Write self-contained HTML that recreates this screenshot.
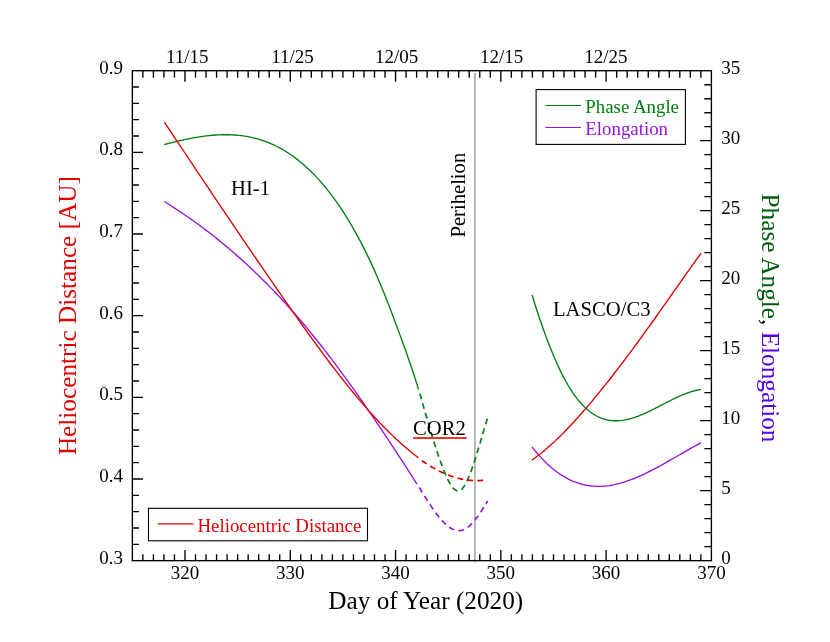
<!DOCTYPE html>
<html><head><meta charset="utf-8"><title>Chart</title><style>html,body{margin:0;padding:0;background:#fff}body{width:830px;height:642px;overflow:hidden}</style></head><body>
<svg width="830" height="642" viewBox="0 0 830 642" style="will-change:transform;display:block;font-family:'Liberation Serif',serif">
<rect width="830" height="642" fill="#fff"/>
<line x1="474.90" y1="73.1" x2="474.90" y2="562.4" stroke="#b0b0b0" stroke-width="1.8"/>
<path d="M164.20,144.58 L167.42,143.75 L170.64,142.93 L173.86,142.14 L177.08,141.36 L180.30,140.62 L183.52,139.90 L186.74,139.21 L189.96,138.56 L193.18,137.94 L196.40,137.37 L199.62,136.85 L202.84,136.37 L206.06,135.95 L209.28,135.58 L212.50,135.27 L215.72,135.02 L218.94,134.84 L222.16,134.72 L225.38,134.68 L228.61,134.72 L231.83,134.83 L235.05,135.02 L238.27,135.30 L241.49,135.67 L244.71,136.13 L247.93,136.68 L251.15,137.33 L254.37,138.09 L257.59,138.95 L260.81,139.91 L264.03,140.99 L267.25,142.19 L270.47,143.50 L273.69,144.93 L276.91,146.49 L280.13,148.18 L283.35,150.00 L286.57,151.95 L289.79,154.04 L293.01,156.27 L296.23,158.65 L299.45,161.18 L302.67,163.85 L305.89,166.69 L309.11,169.67 L312.33,172.82 L315.55,176.14 L318.77,179.62 L321.99,183.28 L325.21,187.11 L328.43,191.11 L331.65,195.30 L334.87,199.67 L338.09,204.23 L341.31,208.98 L344.53,213.93 L347.75,219.09 L350.97,224.46 L354.19,230.04 L357.42,235.84 L360.64,241.87 L363.86,248.14 L367.08,254.64 L370.30,261.39 L373.52,268.40 L376.74,275.66 L379.96,283.18 L383.18,290.97 L386.40,299.04 L389.62,307.33 L392.84,315.81 L396.06,324.43 L399.28,333.14 L402.50,341.92 L405.72,350.84 L408.94,359.98 L412.16,369.42 L415.38,379.26 L418.60,389.57" fill="none" stroke="#007f10" stroke-width="1.35" stroke-linejoin="round"/>
<path d="M418.60,389.61 L419.47,392.59 L420.34,395.59 L421.22,398.59 L422.09,401.61 L422.96,404.63 L423.83,407.65 L424.71,410.67 L425.58,413.69 L426.45,416.70 L427.32,419.70 L428.19,422.69 L429.07,425.65 L429.94,428.60 L430.81,431.53 L431.68,434.43 L432.55,437.30 L433.43,440.14 L434.30,442.94 L435.17,445.71 L436.04,448.43 L436.92,451.11 L437.79,453.74 L438.66,456.32 L439.53,458.84 L440.40,461.31 L441.28,463.72 L442.15,466.06 L443.02,468.34 L443.89,470.55 L444.76,472.68 L445.64,474.73 L446.51,476.69 L447.38,478.55 L448.25,480.32 L449.13,481.97 L450.00,483.50 L450.87,484.91 L451.74,486.19 L452.61,487.33 L453.49,488.33 L454.36,489.17 L455.23,489.85 L456.10,490.37 L456.97,490.72 L457.85,490.89 L458.72,490.87 L459.59,490.65 L460.46,490.24 L461.34,489.62 L462.21,488.80 L463.08,487.80 L463.95,486.61 L464.82,485.25 L465.70,483.73 L466.57,482.06 L467.44,480.24 L468.31,478.28 L469.18,476.20 L470.06,473.99 L470.93,471.68 L471.80,469.26 L472.67,466.75 L473.55,464.16 L474.42,461.49 L475.29,458.76 L476.16,455.96 L477.03,453.12 L477.91,450.23 L478.78,447.32 L479.65,444.38 L480.52,441.42 L481.39,438.46 L482.27,435.50 L483.14,432.56 L484.01,429.63 L484.88,426.74 L485.76,423.88 L486.63,421.07 L487.50,418.31" fill="none" stroke="#007f10" stroke-width="1.7" stroke-dasharray="5.8,4.2" stroke-dashoffset="5.8" stroke-linejoin="round"/>
<path d="M532.00,294.87 L534.14,301.74 L536.28,308.44 L538.41,314.95 L540.55,321.28 L542.69,327.43 L544.83,333.39 L546.97,339.16 L549.10,344.73 L551.24,350.11 L553.38,355.29 L555.52,360.26 L557.66,365.03 L559.79,369.60 L561.93,373.95 L564.07,378.09 L566.21,382.02 L568.35,385.73 L570.48,389.21 L572.62,392.49 L574.76,395.55 L576.90,398.40 L579.04,401.06 L581.17,403.52 L583.31,405.79 L585.45,407.87 L587.59,409.78 L589.73,411.52 L591.86,413.08 L594.00,414.49 L596.14,415.74 L598.28,416.83 L600.42,417.78 L602.55,418.59 L604.69,419.26 L606.83,419.81 L608.97,420.23 L611.11,420.53 L613.24,420.71 L615.38,420.79 L617.52,420.76 L619.66,420.64 L621.79,420.42 L623.93,420.10 L626.07,419.71 L628.21,419.23 L630.35,418.68 L632.48,418.06 L634.62,417.37 L636.76,416.62 L638.90,415.82 L641.04,414.96 L643.17,414.06 L645.31,413.11 L647.45,412.13 L649.59,411.12 L651.73,410.07 L653.86,409.01 L656.00,407.93 L658.14,406.83 L660.28,405.72 L662.42,404.61 L664.55,403.51 L666.69,402.40 L668.83,401.31 L670.97,400.23 L673.11,399.18 L675.24,398.15 L677.38,397.14 L679.52,396.18 L681.66,395.25 L683.80,394.36 L685.93,393.53 L688.07,392.74 L690.21,392.02 L692.35,391.36 L694.49,390.77 L696.62,390.24 L698.76,389.80 L700.90,389.44" fill="none" stroke="#007f10" stroke-width="1.35" stroke-linejoin="round"/>
<path d="M164.30,201.52 L167.50,203.52 L170.70,205.55 L173.90,207.61 L177.09,209.70 L180.29,211.83 L183.49,213.99 L186.69,216.19 L189.89,218.42 L193.09,220.69 L196.29,222.99 L199.49,225.33 L202.68,227.71 L205.88,230.12 L209.08,232.57 L212.28,235.05 L215.48,237.58 L218.68,240.15 L221.88,242.75 L225.08,245.39 L228.27,248.08 L231.47,250.80 L234.67,253.57 L237.87,256.38 L241.07,259.23 L244.27,262.12 L247.47,265.06 L250.67,268.04 L253.86,271.06 L257.06,274.13 L260.26,277.24 L263.46,280.40 L266.66,283.60 L269.86,286.85 L273.06,290.15 L276.26,293.49 L279.45,296.88 L282.65,300.32 L285.85,303.81 L289.05,307.34 L292.25,310.93 L295.45,314.57 L298.65,318.25 L301.85,321.99 L305.04,325.78 L308.24,329.62 L311.44,333.51 L314.64,337.45 L317.84,341.45 L321.04,345.49 L324.24,349.58 L327.44,353.72 L330.63,357.90 L333.83,362.13 L337.03,366.40 L340.23,370.72 L343.43,375.07 L346.63,379.47 L349.83,383.90 L353.03,388.37 L356.22,392.88 L359.42,397.43 L362.62,402.01 L365.82,406.62 L369.02,411.26 L372.22,415.94 L375.42,420.65 L378.62,425.38 L381.81,430.14 L385.01,434.93 L388.21,439.75 L391.41,444.59 L394.61,449.45 L397.81,454.33 L401.01,459.24 L404.21,464.16 L407.40,469.11 L410.60,474.07 L413.80,479.05 L417.00,484.04" fill="none" stroke="#9614dc" stroke-width="1.35" stroke-linejoin="round"/>
<path d="M417.10,483.88 L417.99,485.34 L418.88,486.81 L419.78,488.27 L420.67,489.74 L421.56,491.20 L422.45,492.65 L423.35,494.10 L424.24,495.55 L425.13,496.98 L426.02,498.41 L426.92,499.82 L427.81,501.22 L428.70,502.60 L429.59,503.97 L430.49,505.32 L431.38,506.65 L432.27,507.97 L433.16,509.26 L434.06,510.52 L434.95,511.77 L435.84,512.98 L436.73,514.17 L437.63,515.33 L438.52,516.46 L439.41,517.55 L440.30,518.62 L441.19,519.65 L442.09,520.64 L442.98,521.59 L443.87,522.51 L444.76,523.38 L445.66,524.21 L446.55,525.00 L447.44,525.74 L448.33,526.44 L449.23,527.09 L450.12,527.69 L451.01,528.24 L451.90,528.73 L452.80,529.17 L453.69,529.56 L454.58,529.89 L455.47,530.16 L456.37,530.38 L457.26,530.53 L458.15,530.62 L459.04,530.64 L459.94,530.60 L460.83,530.49 L461.72,530.32 L462.61,530.07 L463.51,529.75 L464.40,529.36 L465.29,528.91 L466.18,528.38 L467.07,527.79 L467.97,527.13 L468.86,526.41 L469.75,525.64 L470.64,524.80 L471.54,523.91 L472.43,522.97 L473.32,521.98 L474.21,520.93 L475.11,519.85 L476.00,518.71 L476.89,517.54 L477.78,516.33 L478.68,515.08 L479.57,513.79 L480.46,512.47 L481.35,511.12 L482.25,509.73 L483.14,508.33 L484.03,506.89 L484.92,505.44 L485.82,503.96 L486.71,502.47 L487.60,500.96" fill="none" stroke="#9614dc" stroke-width="1.7" stroke-dasharray="5.8,4.2" stroke-dashoffset="5.8" stroke-linejoin="round"/>
<path d="M532.00,446.94 L534.14,449.65 L536.28,452.25 L538.42,454.74 L540.56,457.12 L542.70,459.40 L544.84,461.57 L546.97,463.64 L549.11,465.61 L551.25,467.48 L553.39,469.26 L555.53,470.93 L557.67,472.51 L559.81,473.99 L561.95,475.39 L564.09,476.69 L566.23,477.90 L568.37,479.03 L570.51,480.06 L572.65,481.02 L574.78,481.89 L576.92,482.67 L579.06,483.38 L581.20,484.00 L583.34,484.55 L585.48,485.02 L587.62,485.42 L589.76,485.74 L591.90,486.00 L594.04,486.18 L596.18,486.29 L598.32,486.33 L600.46,486.31 L602.59,486.22 L604.73,486.07 L606.87,485.86 L609.01,485.59 L611.15,485.26 L613.29,484.87 L615.43,484.43 L617.57,483.93 L619.71,483.39 L621.85,482.79 L623.99,482.15 L626.13,481.46 L628.27,480.73 L630.41,479.96 L632.54,479.14 L634.68,478.29 L636.82,477.40 L638.96,476.48 L641.10,475.52 L643.24,474.54 L645.38,473.52 L647.52,472.48 L649.66,471.41 L651.80,470.31 L653.94,469.20 L656.08,468.06 L658.22,466.91 L660.35,465.74 L662.49,464.56 L664.63,463.36 L666.77,462.15 L668.91,460.93 L671.05,459.71 L673.19,458.48 L675.33,457.24 L677.47,456.01 L679.61,454.77 L681.75,453.54 L683.89,452.31 L686.03,451.08 L688.16,449.86 L690.30,448.65 L692.44,447.45 L694.58,446.27 L696.72,445.09 L698.86,443.94 L701.00,442.80" fill="none" stroke="#9614dc" stroke-width="1.35" stroke-linejoin="round"/>
<path d="M164.30,122.01 L167.52,126.85 L170.73,131.68 L173.95,136.52 L177.16,141.35 L180.38,146.18 L183.59,151.00 L186.81,155.83 L190.02,160.65 L193.24,165.46 L196.45,170.28 L199.67,175.09 L202.88,179.89 L206.10,184.70 L209.31,189.49 L212.53,194.29 L215.74,199.07 L218.96,203.86 L222.17,208.63 L225.39,213.41 L228.60,218.17 L231.82,222.93 L235.03,227.68 L238.25,232.43 L241.46,237.17 L244.68,241.90 L247.89,246.63 L251.11,251.34 L254.33,256.05 L257.54,260.75 L260.76,265.45 L263.97,270.13 L267.19,274.81 L270.40,279.47 L273.62,284.13 L276.83,288.78 L280.05,293.42 L283.26,298.04 L286.48,302.66 L289.69,307.26 L292.91,311.85 L296.12,316.42 L299.34,320.97 L302.55,325.50 L305.77,330.01 L308.98,334.49 L312.20,338.95 L315.41,343.37 L318.63,347.77 L321.84,352.13 L325.06,356.45 L328.27,360.74 L331.49,364.99 L334.71,369.20 L337.92,373.37 L341.14,377.49 L344.35,381.56 L347.57,385.58 L350.78,389.55 L354.00,393.47 L357.21,397.34 L360.43,401.14 L363.64,404.89 L366.86,408.58 L370.07,412.20 L373.29,415.76 L376.50,419.25 L379.72,422.68 L382.93,426.03 L386.15,429.31 L389.36,432.51 L392.58,435.64 L395.79,438.68 L399.01,441.65 L402.22,444.54 L405.44,447.33 L408.65,450.05 L411.87,452.67 L415.08,455.20 L418.30,457.64" fill="none" stroke="#e00000" stroke-width="1.35" stroke-linejoin="round"/>
<path d="M418.40,458.20 L419.23,458.80 L420.07,459.39 L420.90,459.98 L421.73,460.55 L422.56,461.13 L423.40,461.69 L424.23,462.25 L425.06,462.80 L425.90,463.34 L426.73,463.87 L427.56,464.40 L428.39,464.92 L429.23,465.43 L430.06,465.94 L430.89,466.44 L431.73,466.93 L432.56,467.41 L433.39,467.88 L434.23,468.35 L435.06,468.81 L435.89,469.26 L436.72,469.70 L437.56,470.14 L438.39,470.57 L439.22,470.99 L440.06,471.40 L440.89,471.80 L441.72,472.19 L442.55,472.58 L443.39,472.96 L444.22,473.33 L445.05,473.69 L445.89,474.04 L446.72,474.39 L447.55,474.72 L448.38,475.05 L449.22,475.37 L450.05,475.67 L450.88,475.97 L451.72,476.27 L452.55,476.55 L453.38,476.82 L454.22,477.09 L455.05,477.34 L455.88,477.59 L456.71,477.82 L457.55,478.05 L458.38,478.27 L459.21,478.48 L460.05,478.68 L460.88,478.87 L461.71,479.05 L462.54,479.22 L463.38,479.38 L464.21,479.53 L465.04,479.67 L465.88,479.80 L466.71,479.93 L467.54,480.04 L468.37,480.14 L469.21,480.23 L470.04,480.31 L470.87,480.38 L471.71,480.44 L472.54,480.50 L473.37,480.54 L474.21,480.57 L475.04,480.59 L475.87,480.60 L476.70,480.60 L477.54,480.58 L478.37,480.56 L479.20,480.53 L480.04,480.48 L480.87,480.43 L481.70,480.36 L482.53,480.29 L483.37,480.20 L484.20,480.10" fill="none" stroke="#e00000" stroke-width="1.7" stroke-dasharray="5.8,4.2" stroke-dashoffset="5.8" stroke-linejoin="round"/>
<path d="M532.00,460.01 L534.14,458.51 L536.28,456.94 L538.42,455.33 L540.56,453.66 L542.70,451.94 L544.84,450.17 L546.97,448.35 L549.11,446.49 L551.25,444.58 L553.39,442.63 L555.53,440.63 L557.67,438.59 L559.81,436.51 L561.95,434.39 L564.09,432.23 L566.23,430.04 L568.37,427.81 L570.51,425.54 L572.65,423.25 L574.78,420.92 L576.92,418.56 L579.06,416.17 L581.20,413.76 L583.34,411.32 L585.48,408.85 L587.62,406.36 L589.76,403.85 L591.90,401.31 L594.04,398.75 L596.18,396.17 L598.32,393.56 L600.46,390.94 L602.59,388.29 L604.73,385.62 L606.87,382.93 L609.01,380.22 L611.15,377.50 L613.29,374.75 L615.43,371.99 L617.57,369.21 L619.71,366.41 L621.85,363.60 L623.99,360.77 L626.13,357.92 L628.27,355.06 L630.41,352.19 L632.54,349.30 L634.68,346.40 L636.82,343.48 L638.96,340.55 L641.10,337.61 L643.24,334.66 L645.38,331.70 L647.52,328.73 L649.66,325.75 L651.80,322.76 L653.94,319.75 L656.08,316.74 L658.22,313.73 L660.35,310.70 L662.49,307.67 L664.63,304.64 L666.77,301.60 L668.91,298.55 L671.05,295.51 L673.19,292.46 L675.33,289.41 L677.47,286.37 L679.61,283.33 L681.75,280.29 L683.89,277.26 L686.03,274.23 L688.16,271.21 L690.30,268.19 L692.44,265.19 L694.58,262.20 L696.72,259.21 L698.86,256.24 L701.00,253.29" fill="none" stroke="#e00000" stroke-width="1.35" stroke-linejoin="round"/>
<line x1="413.1" y1="438.0" x2="466.7" y2="438.0" stroke="#ec3524" stroke-width="2"/>
<rect x="132.35" y="70.7" width="579.05" height="489.95" fill="none" stroke="#000" stroke-width="1.35"/>
<path d="M142.88,560.65v-6.3M142.88,70.7v7.0M153.41,560.65v-6.3M153.41,70.7v7.0M163.93,560.65v-6.3M163.93,70.7v7.0M174.46,560.65v-6.3M174.46,70.7v7.0M184.99,560.65v-10.65M184.99,70.7v11.0M195.52,560.65v-6.3M195.52,70.7v7.0M206.05,560.65v-6.3M206.05,70.7v7.0M216.58,560.65v-6.3M216.58,70.7v7.0M227.10,560.65v-6.3M227.10,70.7v7.0M237.63,560.65v-6.3M237.63,70.7v7.0M248.16,560.65v-6.3M248.16,70.7v7.0M258.69,560.65v-6.3M258.69,70.7v7.0M269.22,560.65v-6.3M269.22,70.7v7.0M279.74,560.65v-6.3M279.74,70.7v7.0M290.27,560.65v-10.65M290.27,70.7v11.0M300.80,560.65v-6.3M300.80,70.7v7.0M311.33,560.65v-6.3M311.33,70.7v7.0M321.86,560.65v-6.3M321.86,70.7v7.0M332.39,560.65v-6.3M332.39,70.7v7.0M342.91,560.65v-6.3M342.91,70.7v7.0M353.44,560.65v-6.3M353.44,70.7v7.0M363.97,560.65v-6.3M363.97,70.7v7.0M374.50,560.65v-6.3M374.50,70.7v7.0M385.03,560.65v-6.3M385.03,70.7v7.0M395.55,560.65v-10.65M395.55,70.7v11.0M406.08,560.65v-6.3M406.08,70.7v7.0M416.61,560.65v-6.3M416.61,70.7v7.0M427.14,560.65v-6.3M427.14,70.7v7.0M437.67,560.65v-6.3M437.67,70.7v7.0M448.20,560.65v-6.3M448.20,70.7v7.0M458.72,560.65v-6.3M458.72,70.7v7.0M469.25,560.65v-6.3M469.25,70.7v7.0M479.78,560.65v-6.3M479.78,70.7v7.0M490.31,560.65v-6.3M490.31,70.7v7.0M500.84,560.65v-10.65M500.84,70.7v11.0M511.36,560.65v-6.3M511.36,70.7v7.0M521.89,560.65v-6.3M521.89,70.7v7.0M532.42,560.65v-6.3M532.42,70.7v7.0M542.95,560.65v-6.3M542.95,70.7v7.0M553.48,560.65v-6.3M553.48,70.7v7.0M564.01,560.65v-6.3M564.01,70.7v7.0M574.53,560.65v-6.3M574.53,70.7v7.0M585.06,560.65v-6.3M585.06,70.7v7.0M595.59,560.65v-6.3M595.59,70.7v7.0M606.12,560.65v-10.65M606.12,70.7v11.0M616.65,560.65v-6.3M616.65,70.7v7.0M627.17,560.65v-6.3M627.17,70.7v7.0M637.70,560.65v-6.3M637.70,70.7v7.0M648.23,560.65v-6.3M648.23,70.7v7.0M658.76,560.65v-6.3M658.76,70.7v7.0M669.29,560.65v-6.3M669.29,70.7v7.0M679.82,560.65v-6.3M679.82,70.7v7.0M690.34,560.65v-6.3M690.34,70.7v7.0M700.87,560.65v-6.3M700.87,70.7v7.0M132.35,544.32h6.6M132.35,527.99h6.6M132.35,511.65h6.6M132.35,495.32h6.6M132.35,478.99h10.65M132.35,462.66h6.6M132.35,446.33h6.6M132.35,430.00h6.6M132.35,413.66h6.6M132.35,397.33h10.65M132.35,381.00h6.6M132.35,364.67h6.6M132.35,348.34h6.6M132.35,332.01h6.6M132.35,315.67h10.65M132.35,299.34h6.6M132.35,283.01h6.6M132.35,266.68h6.6M132.35,250.35h6.6M132.35,234.02h10.65M132.35,217.68h6.6M132.35,201.35h6.6M132.35,185.02h6.6M132.35,168.69h6.6M132.35,152.36h10.65M132.35,136.03h6.6M132.35,119.69h6.6M132.35,103.36h6.6M132.35,87.03h6.6M711.4,546.65h-7.1M711.4,532.65h-7.1M711.4,518.65h-7.1M711.4,504.66h-7.1M711.4,490.66h-11.3M711.4,476.66h-7.1M711.4,462.66h-7.1M711.4,448.66h-7.1M711.4,434.66h-7.1M711.4,420.66h-11.3M711.4,406.67h-7.1M711.4,392.67h-7.1M711.4,378.67h-7.1M711.4,364.67h-7.1M711.4,350.67h-11.3M711.4,336.67h-7.1M711.4,322.67h-7.1M711.4,308.68h-7.1M711.4,294.68h-7.1M711.4,280.68h-11.3M711.4,266.68h-7.1M711.4,252.68h-7.1M711.4,238.68h-7.1M711.4,224.68h-7.1M711.4,210.69h-11.3M711.4,196.69h-7.1M711.4,182.69h-7.1M711.4,168.69h-7.1M711.4,154.69h-7.1M711.4,140.69h-11.3M711.4,126.69h-7.1M711.4,112.70h-7.1M711.4,98.70h-7.1M711.4,84.70h-7.1" stroke="#000" stroke-width="1.35" fill="none"/>
<text x="184.99" y="578.70" font-size="19.0" text-anchor="middle" fill="#000">320</text>
<text x="290.27" y="578.70" font-size="19.0" text-anchor="middle" fill="#000">330</text>
<text x="395.55" y="578.70" font-size="19.0" text-anchor="middle" fill="#000">340</text>
<text x="500.84" y="578.70" font-size="19.0" text-anchor="middle" fill="#000">350</text>
<text x="606.12" y="578.70" font-size="19.0" text-anchor="middle" fill="#000">360</text>
<text x="711.40" y="578.70" font-size="19.0" text-anchor="middle" fill="#000">370</text>
<text x="187.29" y="62.90" font-size="19.0" text-anchor="middle" fill="#000">11/15</text>
<text x="292.57" y="62.90" font-size="19.0" text-anchor="middle" fill="#000">11/25</text>
<text x="396.65" y="62.90" font-size="19.0" text-anchor="middle" fill="#000">12/05</text>
<text x="501.54" y="62.90" font-size="19.0" text-anchor="middle" fill="#000">12/15</text>
<text x="605.92" y="62.90" font-size="19.0" text-anchor="middle" fill="#000">12/25</text>
<text x="122.90" y="563.65" font-size="19.0" text-anchor="end" fill="#000">0.3</text>
<text x="122.90" y="481.99" font-size="19.0" text-anchor="end" fill="#000">0.4</text>
<text x="122.90" y="400.33" font-size="19.0" text-anchor="end" fill="#000">0.5</text>
<text x="122.90" y="318.67" font-size="19.0" text-anchor="end" fill="#000">0.6</text>
<text x="122.90" y="237.02" font-size="19.0" text-anchor="end" fill="#000">0.7</text>
<text x="122.90" y="155.36" font-size="19.0" text-anchor="end" fill="#000">0.8</text>
<text x="122.90" y="73.70" font-size="19.0" text-anchor="end" fill="#000">0.9</text>
<text x="721.30" y="563.65" font-size="19.0" text-anchor="start" fill="#000">0</text>
<text x="721.30" y="493.66" font-size="19.0" text-anchor="start" fill="#000">5</text>
<text x="721.30" y="423.66" font-size="19.0" text-anchor="start" fill="#000">10</text>
<text x="721.30" y="353.67" font-size="19.0" text-anchor="start" fill="#000">15</text>
<text x="721.30" y="283.68" font-size="19.0" text-anchor="start" fill="#000">20</text>
<text x="721.30" y="213.69" font-size="19.0" text-anchor="start" fill="#000">25</text>
<text x="721.30" y="143.69" font-size="19.0" text-anchor="start" fill="#000">30</text>
<text x="721.30" y="73.70" font-size="19.0" text-anchor="start" fill="#000">35</text>
<text x="425.80" y="608.80" font-size="25.25" text-anchor="middle" fill="#000">Day of Year (2020)</text>
<text transform="translate(76.1,315.6) rotate(-90)" font-size="25.25" text-anchor="middle" fill="#e00000">Heliocentric Distance [AU]</text>
<text transform="translate(762.1,193.5) rotate(90)" font-size="25.25" text-anchor="start"><tspan fill="#005c0a">Phase Angle</tspan><tspan fill="#000">, </tspan><tspan fill="#5a00e0">Elongation</tspan></text>
<text x="231.00" y="195.10" font-size="20.65" text-anchor="start" fill="#000">HI-1</text>
<text x="553.00" y="316.00" font-size="20.65" text-anchor="start" fill="#000">LASCO/C3</text>
<text x="413.00" y="435.00" font-size="20.65" text-anchor="start" fill="#000">COR2</text>
<text transform="translate(464.8,237.6) rotate(-90)" font-size="20.65" text-anchor="start" fill="#000">Perihelion</text>
<rect x="536.1" y="89.6" width="149.3" height="54.8" fill="#fff" stroke="#000" stroke-width="1.1"/>
<line x1="545.3" y1="105.45" x2="581.0" y2="105.45" stroke="#007f10" stroke-width="1.15"/>
<line x1="545.3" y1="127.45" x2="581.0" y2="127.45" stroke="#9614dc" stroke-width="1.15"/>
<text x="585.30" y="112.60" font-size="18.85" text-anchor="start" fill="#007f10">Phase Angle</text>
<text x="585.30" y="134.70" font-size="18.85" text-anchor="start" fill="#9614dc">Elongation</text>
<rect x="148.45" y="508.3" width="219.05" height="32.5" fill="#fff" stroke="#000" stroke-width="1.1"/>
<line x1="157.8" y1="523.9" x2="193.5" y2="523.9" stroke="#e00000" stroke-width="1.15"/>
<text x="197.50" y="531.70" font-size="18.85" text-anchor="start" fill="#e00000">Heliocentric Distance</text>
</svg>
</body></html>
